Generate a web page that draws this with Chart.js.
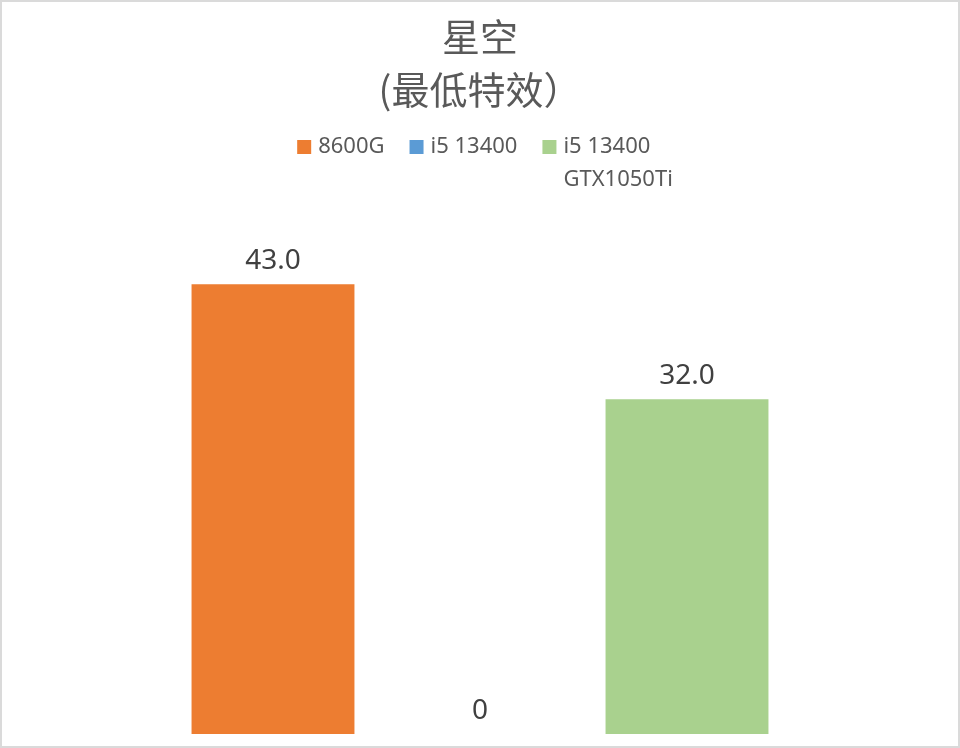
<!DOCTYPE html>
<html>
<head>
<meta charset="utf-8">
<script src="https://cdn.jsdelivr.net/npm/chart.js@4"></script>
<style>
  html, body { margin: 0; padding: 0; background: #fff; }
  #wrap { width: 960px; height: 748px; box-sizing: border-box; border: 2px solid #dadada; }
  #chart { display: block; }
</style>
</head>
<body>
<div id="wrap"><canvas id="chart" width="956" height="744"></canvas></div>
<script>
// Chart data
const titleLines = ['星空', '(最低特效）'];
const categories = [''];
const seriesNames = [['8600G'], ['i5 13400'], ['i5 13400', 'GTX1050Ti']];
const seriesColors = ['#ed7d31', '#5b9bd5', '#a9d18e'];
const series8600G = [43.0];
const seriesI5 = [0];
const seriesI5Gtx = [32.0];

const textColor = '#595959';
const latin = '"Noto Sans", "Noto Sans CJK SC", sans-serif';

// Value labels above each bar
const valueLabels = {
  id: 'valueLabels',
  afterDatasetsDraw(chart) {
    const ctx = chart.ctx;
    ctx.save();
    ctx.font = '28px ' + latin;
    ctx.fillStyle = '#404040';
    ctx.textAlign = 'center';
    ctx.textBaseline = 'alphabetic';
    chart.data.datasets.forEach((ds, i) => {
      chart.getDatasetMeta(i).data.forEach((bar, j) => {
        const v = ds.data[j];
        const txt = v === 0 ? '0' : v.toFixed(1);
        ctx.fillText(txt, bar.x, bar.y - 15);
      });
    });
    ctx.restore();
  }
};

// Legend drawn by hand so the long name can wrap onto two lines
const wrapLegend = {
  id: 'wrapLegend',
  afterDraw(chart) {
    const ctx = chart.ctx;
    const box = 14, gap = 7, spacing = 25, lineH = 33;
    const y0 = 145;
    ctx.save();
    ctx.font = '22px ' + latin;
    ctx.textBaseline = 'middle';
    ctx.textAlign = 'left';
    const widths = chart.data.datasets.map(ds =>
      Math.max(...ds.label.map(t => ctx.measureText(t).width)));
    const total = widths.reduce((a, w) => a + box + gap + w, 0) + spacing * (widths.length - 1);
    let x = 483 - total / 2;
    chart.data.datasets.forEach((ds, i) => {
      ctx.fillStyle = ds.backgroundColor;
      ctx.fillRect(x, y0 - box / 2, box, box);
      ctx.fillStyle = textColor;
      ds.label.forEach((t, k) => ctx.fillText(t, x + box + gap, y0 + k * lineH));
      x += box + gap + widths[i] + spacing;
    });
    ctx.restore();
  }
};

const datasets = [series8600G, seriesI5, seriesI5Gtx].map((d, i) => ({
  label: seriesNames[i],
  data: d,
  backgroundColor: seriesColors[i],
  barPercentage: 0.787,
  categoryPercentage: 1
}));

new Chart(document.getElementById('chart'), {
  type: 'bar',
  data: { labels: categories, datasets: datasets },
  options: {
    responsive: false,
    animation: false,
    layout: { padding: { left: 167.5, right: 167.5, top: 6, bottom: 12 } },
    scales: {
      x: { display: false },
      y: { display: false, min: 0, max: 51.4 }
    },
    plugins: {
      title: {
        display: true,
        text: titleLines,
        color: textColor,
        font: { family: '"Noto Sans CJK SC", sans-serif', size: 38, weight: 'normal', lineHeight: 1.4 },
        padding: { top: 2, bottom: 80 }
      },
      legend: { display: false },
      tooltip: { enabled: false }
    }
  },
  plugins: [valueLabels, wrapLegend]
});
</script>
</body>
</html>
